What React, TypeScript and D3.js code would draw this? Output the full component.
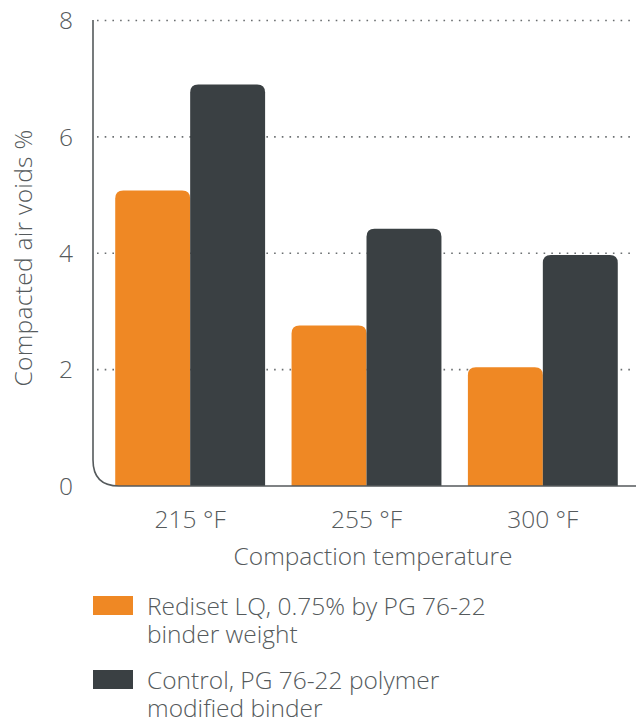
import React from "react";
import * as d3 from "d3";

const categories = ["215 °F", "255 °F", "300 °F"];
const seriesNames = ["Rediset LQ, 0.75% by PG 76-22 binder weight", "Control, PG 76-22 polymer modified binder"];
const legendLines = [["Rediset LQ, 0.75% by PG 76-22", "binder weight"], ["Control, PG 76-22 polymer", "modified binder"]];
const rediset = [5.08, 2.76, 2.04];
const control = [6.9, 4.42, 3.97];
const yTicks = [0, 2, 4, 6, 8];
const colors = ["#EF8824", "#3A4043"];

const W = 641, H = 722;
const FONT = "'Open Sans', Lato, sans-serif";
const TXT = "#555a5c";
const FS = 24.5;

function roundTopRect(x: number, y: number, w: number, h: number, r: number) {
  const rr = Math.min(r, w / 2, h);
  return `M${x},${y + h}V${y + rr}Q${x},${y} ${x + rr},${y}H${x + w - rr}Q${x + w},${y} ${x + w},${y + rr}V${y + h}Z`;
}

export default function App() {
  const y = d3.scaleLinear().domain([0, 8]).range([486, 20.5]);
  const x0 = d3.scaleBand().domain(categories).range([102, 631]).paddingInner(0.15).paddingOuter(0.075);
  const x1 = d3.scaleBand().domain(["0", "1"]).range([0, x0.bandwidth()]);
  const series = [rediset, control];
  const axisX = 93, r = 26;
  return (
    <svg width={W} height={H} style={{ position: "absolute", left: 0, top: 0, background: "#fff" }} fontFamily={FONT}>
      {yTicks.filter(t => t > 0).map(t => (
        <line key={t} x1={97} x2={636} y1={y(t)} y2={y(t)} stroke="#6a6e70" strokeWidth={1.6} strokeDasharray="1.6 6.1" />
      ))}
      {categories.map((c, i) => (
        <g key={c}>
          {series.map((s, j) => {
            const bx = (x0(c) as number) + (x1(String(j)) as number);
            const by = y(s[i]);
            return <path key={j} d={roundTopRect(bx, by, x1.bandwidth(), y(0) - by, 8)} fill={colors[j]} />;
          })}
        </g>
      ))}
      <path d={`M${axisX},20V${y(0) - r}Q${axisX},${y(0)} ${axisX + r},${y(0)}H636`} fill="none" stroke="#555a5c" strokeWidth={1.6} />
      {yTicks.map(t => (
        <text key={t} x={73} y={y(t)} dy="0.36em" textAnchor="end" fontSize={FS} fontWeight={300} fill={TXT}>{t}</text>
      ))}
      {categories.map(c => (
        <text key={c} x={(x0(c) as number) + x0.bandwidth() / 2} y={528} textAnchor="middle" fontSize={FS} fontWeight={300} fill={TXT}>{c}</text>
      ))}
      <text x={373} y={565} textAnchor="middle" fontSize={FS} fontWeight={300} fill={TXT}>Compaction temperature</text>
      <text transform={`translate(32,258) rotate(-90)`} textAnchor="middle" fontSize={FS} fontWeight={300} fill={TXT} letterSpacing={0.3}>Compacted air voids %</text>
      {seriesNames.map((n, i) => (
        <g key={n} transform={`translate(93,${596 + i * 74})`}>
          <rect x={0} y={0} width={40} height={19} fill={colors[i]} />
          {legendLines[i].map((l, k) => (
            <text key={k} x={54} y={19 + k * 28} fontSize={FS} fontWeight={300} fill={TXT}>{l}</text>
          ))}
        </g>
      ))}
    </svg>
  );
}
